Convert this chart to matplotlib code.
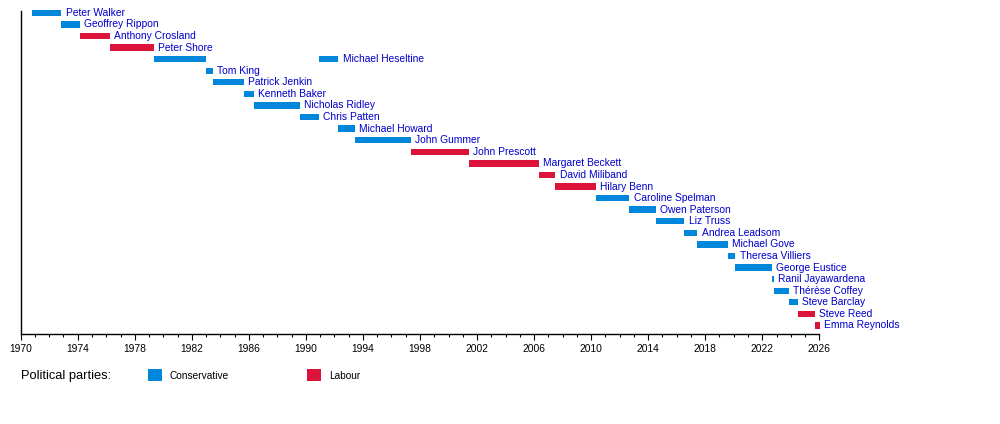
import matplotlib
matplotlib.use("Agg")
import matplotlib.pyplot as plt
from matplotlib.patches import Rectangle
from matplotlib.ticker import FixedLocator, MultipleLocator

plt.rcParams['font.family'] = ['Liberation Sans', 'DejaVu Sans']

# one row per person, top to bottom
names = ["Peter Walker", "Geoffrey Rippon", "Anthony Crosland", "Peter Shore",
         "Michael Heseltine", "Tom King", "Patrick Jenkin", "Kenneth Baker",
         "Nicholas Ridley", "Chris Patten", "Michael Howard", "John Gummer",
         "John Prescott", "Margaret Beckett", "David Miliband", "Hilary Benn",
         "Caroline Spelman", "Owen Paterson", "Liz Truss", "Andrea Leadsom",
         "Michael Gove", "Theresa Villiers", "George Eustice", "Ranil Jayawardena",
         "Thérèse Coffey", "Steve Barclay", "Steve Reed", "Emma Reynolds"]

# terms in office (Heseltine served twice, so he has two terms on row 4)
term_row = [0, 1, 2, 3, 4, 5, 6, 7, 8, 9, 4, 10, 11, 12, 13, 14, 15, 16, 17,
            18, 19, 20, 21, 22, 23, 24, 25, 26, 27]
term_start = [1970.79, 1972.85, 1974.17, 1976.27, 1979.34, 1983.02, 1983.45,
              1985.67, 1986.37, 1989.57, 1990.90, 1992.28, 1993.41, 1997.34,
              2001.44, 2006.35, 2007.49, 2010.36, 2012.68, 2014.54, 2016.54,
              2017.45, 2019.57, 2020.12, 2022.68, 2022.82, 2023.87, 2024.51,
              2025.68]
term_end = [1972.85, 1974.17, 1976.27, 1979.34, 1983.02, 1983.45, 1985.67,
            1986.37, 1989.57, 1990.90, 1992.28, 1993.41, 1997.34, 2001.44,
            2006.35, 2007.49, 2010.36, 2012.68, 2014.54, 2016.54, 2017.45,
            2019.57, 2020.12, 2022.68, 2022.82, 2023.87, 2024.51, 2025.68,
            2026.05]
term_party = ["Con", "Con", "Lab", "Lab", "Con", "Con", "Con", "Con", "Con",
              "Con", "Con", "Con", "Con", "Lab", "Lab", "Lab", "Lab", "Con",
              "Con", "Con", "Con", "Con", "Con", "Con", "Con", "Con", "Con",
              "Lab", "Lab"]

year_ticks = list(range(1970, 2027, 4))

party_names = {"Con": "Conservative", "Lab": "Labour"}
party_colors = {"Con": "#0087dc", "Lab": "#dc143c"}
label_color = "#0000cc"

fig = plt.figure(figsize=(10, 4.24), dpi=100)
W, H = 1000, 424
x0, x1 = 20.7, 819.3
ytop, ybot = 11, 334
ax = fig.add_axes([x0 / W, 1 - ybot / H, (x1 - x0) / W, (ybot - ytop) / H])

for r, s, e, p in zip(term_row, term_start, term_end, term_party):
    ax.barh(r, e - s, left=s, height=0.55, color=party_colors[p],
            linewidth=0, clip_on=False)

# label sits after the last term of each row
for i, name in enumerate(names):
    last = max(e for r, e in zip(term_row, term_end) if r == i)
    ax.annotate(name, (last, i), xytext=(3, 0), textcoords="offset points",
                va="center", ha="left", fontsize=7.4, color=label_color,
                annotation_clip=False)

ax.set_xlim(1970, 2026)
ax.set_ylim(27.74, -0.16)
ax.xaxis.set_major_locator(FixedLocator(year_ticks))
ax.xaxis.set_minor_locator(MultipleLocator(1))
ax.tick_params(axis="x", which="major", length=4.5, width=0.8, pad=3,
               labelsize=7.4, direction="out")
ax.tick_params(axis="x", which="minor", length=2.2, width=0.8, direction="out")
ax.set_yticks([])
for side in ("top", "right"):
    ax.spines[side].set_visible(False)
for side in ("left", "bottom"):
    ax.spines[side].set_linewidth(1.0)

# legend along the bottom
fig.text(21 / W, 1 - 376 / H, "Political parties:", fontsize=9.3,
         va="center", ha="left")
legend_x = {"Con": 148, "Lab": 307}
for p, lx in legend_x.items():
    fig.add_artist(Rectangle((lx / W, 1 - 381 / H), 13.5 / W, 12.5 / H,
                             transform=fig.transFigure,
                             color=party_colors[p], linewidth=0))
    fig.text((lx + 22) / W, 1 - 376 / H, party_names[p], fontsize=7.3,
             va="center", ha="left")

fig.savefig("out.png", dpi=100)
